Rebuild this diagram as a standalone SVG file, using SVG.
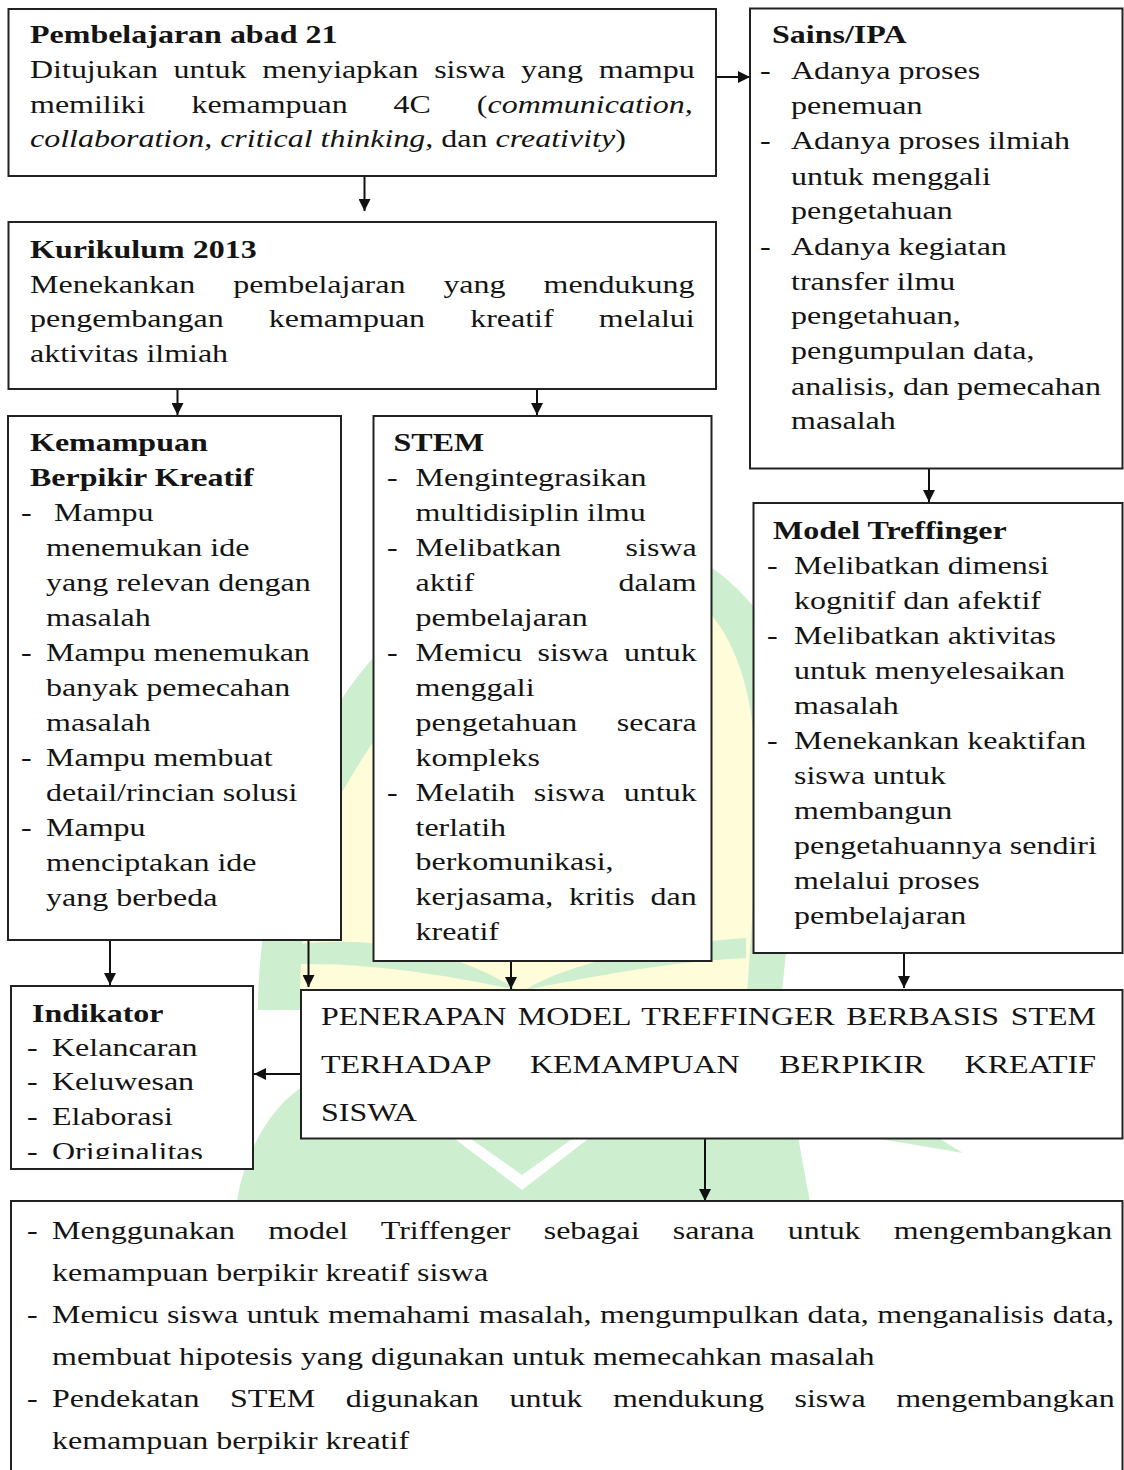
<svg xmlns="http://www.w3.org/2000/svg" width="1124" height="1470" viewBox="0 0 1124 1470">
<defs>
<style>
.box{fill:#ffffff;stroke:#222222;stroke-width:2}
.t{font-family:"Liberation Serif","Times New Roman",serif;font-size:25px;fill:#141414}
.b{font-weight:700}
.p{font-size:26px}
.i{font-style:italic}
.wmg{fill:#cdefcf}
.wmy{fill:#fefcd9}
</style>
<marker id="ah" viewBox="0 0 12 12" refX="12" refY="6" markerWidth="12" markerHeight="12" markerUnits="userSpaceOnUse" orient="auto">
<path d="M0 0 L12 6 L0 12 Z" fill="#111111"/>
</marker>
<clipPath id="clipInd"><rect x="11" y="986" width="242" height="173"/></clipPath>
</defs>
<rect x="0" y="0" width="1124" height="1470" fill="#ffffff"/>

<g id="watermark">
<path class="wmg" d="M258 1000 C262 880 295 770 341 700 C400 610 500 545 620 538 C670 536 720 565 754 607 C795 665 805 800 782 990 L782 1010 L258 1010 Z"/>
<path class="wmy" d="M300 1010 C300 900 318 830 341 794 C360 762 375 735 400 710 C480 630 610 600 711 614 C740 650 752 700 754 744 C760 830 752 920 746 1010 Z"/>
<path class="wmg" d="M300 944 C385 934 470 958 517 990 C460 978 380 963 300 964 Z"/>
<path class="wmg" d="M746 938 C660 944 570 962 525 990 C585 978 665 962 746 958 Z"/>
<path class="wmg" d="M237 1201 C245 1150 272 1105 305 1085 L790 1085 C798 1140 806 1180 810 1201 Z"/>
<path class="wmg" d="M880 1139 L940 1139 L963 1153 Z"/>
<polygon fill="#ffffff" points="455,1139 522,1190 588,1139 572,1139 522,1175 471,1139"/>
</g>

<g id="connectors" stroke="#111111" stroke-width="2" fill="none" marker-end="url(#ah)">
<path d="M364.5 176 V211"/>
<path d="M716 77 H750"/>
<path d="M177.5 389 V415"/>
<path d="M537 389 V415"/>
<path d="M929 469 V502"/>
<path d="M110 940 V985"/>
<path d="M308.5 940 V987"/>
<path d="M511 961 V989"/>
<path d="M904 953 V988"/>
<path d="M301 1074 H254"/>
<path d="M705 1139 V1201"/>
</g>

<g id="node-abad21">
<rect class="box" x="8.5" y="9" width="707.5" height="167"/>
<text class="t b" transform="translate(30 43) scale(1.28 1)">Pembelajaran abad 21</text>
<text class="t" transform="translate(30 78) scale(1.28 1)" style="word-spacing:6px">Ditujukan untuk menyiapkan siswa yang mampu</text>
<text class="t" transform="translate(30 112.5) scale(1.28 1)" style="word-spacing:29.6px">memiliki kemampuan 4C (<tspan class="i">communication,</tspan></text>
<text class="t" transform="translate(30 147) scale(1.28 1)"><tspan class="i">collaboration, critical thinking,</tspan> dan <tspan class="i">creativity</tspan>)</text>
</g>

<g id="node-kurikulum">
<rect class="box" x="8.5" y="222" width="707.5" height="167"/>
<text class="t b" transform="translate(30 258) scale(1.28 1)">Kurikulum 2013</text>
<text class="t" transform="translate(30 293) scale(1.28 1)" style="word-spacing:23.4px">Menekankan pembelajaran yang mendukung</text>
<text class="t" transform="translate(30 327) scale(1.28 1)" style="word-spacing:29px">pengembangan kemampuan kreatif melalui</text>
<text class="t" transform="translate(30 362) scale(1.28 1)">aktivitas ilmiah</text>
</g>

<g id="node-sains">
<rect class="box" x="750" y="8.5" width="372.5" height="460"/>
<text class="t b" transform="translate(772 43) scale(1.28 1)">Sains/IPA</text>
<text class="t" transform="translate(760 79) scale(1.28 1)">-</text>
<text class="t" transform="translate(791 79) scale(1.28 1)">Adanya proses</text>
<text class="t" transform="translate(791 114) scale(1.28 1)">penemuan</text>
<text class="t" transform="translate(760 149) scale(1.28 1)">-</text>
<text class="t" transform="translate(791 149) scale(1.28 1)">Adanya proses ilmiah</text>
<text class="t" transform="translate(791 185) scale(1.28 1)">untuk menggali</text>
<text class="t" transform="translate(791 219) scale(1.28 1)">pengetahuan</text>
<text class="t" transform="translate(760 255) scale(1.28 1)">-</text>
<text class="t" transform="translate(791 255) scale(1.28 1)">Adanya kegiatan</text>
<text class="t" transform="translate(791 290) scale(1.28 1)">transfer ilmu</text>
<text class="t" transform="translate(791 324) scale(1.28 1)">pengetahuan,</text>
<text class="t" transform="translate(791 359) scale(1.28 1)">pengumpulan data,</text>
<text class="t" transform="translate(791 394.5) scale(1.28 1)">analisis, dan pemecahan</text>
<text class="t" transform="translate(791 429) scale(1.28 1)">masalah</text>
</g>

<g id="node-kemampuan">
<rect class="box" x="8" y="416" width="333" height="524"/>
<text class="t b" transform="translate(30 451) scale(1.28 1)">Kemampuan</text>
<text class="t b" transform="translate(30 486) scale(1.28 1)">Berpikir Kreatif</text>
<text class="t" transform="translate(21 521) scale(1.28 1)">-</text>
<text class="t" transform="translate(54 521) scale(1.28 1)">Mampu</text>
<text class="t" transform="translate(46 556) scale(1.28 1)">menemukan ide</text>
<text class="t" transform="translate(46 591) scale(1.28 1)">yang relevan dengan</text>
<text class="t" transform="translate(46 626) scale(1.28 1)">masalah</text>
<text class="t" transform="translate(21 661) scale(1.28 1)">-</text>
<text class="t" transform="translate(46 661) scale(1.28 1)">Mampu menemukan</text>
<text class="t" transform="translate(46 696) scale(1.28 1)">banyak pemecahan</text>
<text class="t" transform="translate(46 731) scale(1.28 1)">masalah</text>
<text class="t" transform="translate(21 766) scale(1.28 1)">-</text>
<text class="t" transform="translate(46 766) scale(1.28 1)">Mampu membuat</text>
<text class="t" transform="translate(46 801) scale(1.28 1)">detail/rincian solusi</text>
<text class="t" transform="translate(21 836) scale(1.28 1)">-</text>
<text class="t" transform="translate(46 836) scale(1.28 1)">Mampu</text>
<text class="t" transform="translate(46 871) scale(1.28 1)">menciptakan ide</text>
<text class="t" transform="translate(46 906) scale(1.28 1)">yang berbeda</text>
</g>

<g id="node-stem">
<rect class="box" x="373.5" y="416" width="338" height="545"/>
<text class="t b" transform="translate(393.5 451) scale(1.28 1)">STEM</text>
<text class="t" transform="translate(387 486) scale(1.28 1)">-</text>
<text class="t" transform="translate(415.5 486) scale(1.28 1)">Mengintegrasikan</text>
<text class="t" transform="translate(415.5 521) scale(1.28 1)">multidisiplin ilmu</text>
<text class="t" transform="translate(387 556) scale(1.28 1)">-</text>
<text class="t" transform="translate(415.5 556) scale(1.28 1)" style="word-spacing:44.1px">Melibatkan siswa</text>
<text class="t" transform="translate(415.5 591) scale(1.28 1)" style="word-spacing:106.6px">aktif dalam</text>
<text class="t" transform="translate(415.5 626) scale(1.28 1)">pembelajaran</text>
<text class="t" transform="translate(387 661) scale(1.28 1)">-</text>
<text class="t" transform="translate(415.5 661) scale(1.28 1)" style="word-spacing:5.75px">Memicu siswa untuk</text>
<text class="t" transform="translate(415.5 696) scale(1.28 1)">menggali</text>
<text class="t" transform="translate(415.5 731) scale(1.28 1)" style="word-spacing:24.75px">pengetahuan secara</text>
<text class="t" transform="translate(415.5 766) scale(1.28 1)">kompleks</text>
<text class="t" transform="translate(387 801) scale(1.28 1)">-</text>
<text class="t" transform="translate(415.5 801) scale(1.28 1)" style="word-spacing:8.5px">Melatih siswa untuk</text>
<text class="t" transform="translate(415.5 836) scale(1.28 1)">terlatih</text>
<text class="t" transform="translate(415.5 870) scale(1.28 1)">berkomunikasi,</text>
<text class="t" transform="translate(415.5 905) scale(1.28 1)" style="word-spacing:6.1px">kerjasama, kritis dan</text>
<text class="t" transform="translate(415.5 940) scale(1.28 1)">kreatif</text>
</g>

<g id="node-treffinger">
<rect class="box" x="753.5" y="503" width="369" height="450"/>
<text class="t b" transform="translate(773 539) scale(1.28 1)">Model Treffinger</text>
<text class="t" transform="translate(767 574) scale(1.28 1)">-</text>
<text class="t" transform="translate(794 574) scale(1.28 1)">Melibatkan dimensi</text>
<text class="t" transform="translate(794 609) scale(1.28 1)">kognitif dan afektif</text>
<text class="t" transform="translate(767 644) scale(1.28 1)">-</text>
<text class="t" transform="translate(794 644) scale(1.28 1)">Melibatkan aktivitas</text>
<text class="t" transform="translate(794 679) scale(1.28 1)">untuk menyelesaikan</text>
<text class="t" transform="translate(794 714) scale(1.28 1)">masalah</text>
<text class="t" transform="translate(767 749) scale(1.28 1)">-</text>
<text class="t" transform="translate(794 749) scale(1.28 1)">Menekankan keaktifan</text>
<text class="t" transform="translate(794 784) scale(1.28 1)">siswa untuk</text>
<text class="t" transform="translate(794 819) scale(1.28 1)">membangun</text>
<text class="t" transform="translate(794 854) scale(1.28 1)">pengetahuannya sendiri</text>
<text class="t" transform="translate(794 889) scale(1.28 1)">melalui proses</text>
<text class="t" transform="translate(794 924) scale(1.28 1)">pembelajaran</text>
</g>

<g id="node-indikator">
<rect class="box" x="11" y="986" width="242" height="183"/>
<g clip-path="url(#clipInd)">
<text class="t b" transform="translate(32 1022) scale(1.28 1)">Indikator</text>
<text class="t" transform="translate(27 1056) scale(1.28 1)">-</text>
<text class="t" transform="translate(52 1056) scale(1.28 1)">Kelancaran</text>
<text class="t" transform="translate(27 1090) scale(1.28 1)">-</text>
<text class="t" transform="translate(52 1090) scale(1.28 1)">Keluwesan</text>
<text class="t" transform="translate(27 1125) scale(1.28 1)">-</text>
<text class="t" transform="translate(52 1125) scale(1.28 1)">Elaborasi</text>
<text class="t" transform="translate(27 1160) scale(1.28 1)">-</text>
<text class="t" transform="translate(52 1160) scale(1.28 1)">Originalitas</text>
</g>
</g>

<g id="node-penerapan">
<rect class="box" x="301" y="990" width="821.5" height="148.5"/>
<text class="t p" transform="translate(321 1025) scale(1.23 1)" style="word-spacing:2.9px">PENERAPAN MODEL TREFFINGER BERBASIS STEM</text>
<text class="t p" transform="translate(321 1073) scale(1.23 1)" style="word-spacing:25.8px">TERHADAP KEMAMPUAN BERPIKIR KREATIF</text>
<text class="t p" transform="translate(321 1121) scale(1.23 1)">SISWA</text>
</g>

<g id="node-kesimpulan">
<rect class="box" x="11" y="1201" width="1111.5" height="300"/>
<text class="t" transform="translate(27 1239) scale(1.28 1)">-</text>
<text class="t" transform="translate(52 1239) scale(1.28 1)" style="word-spacing:19.7px">Menggunakan model Triffenger sebagai sarana untuk mengembangkan</text>
<text class="t" transform="translate(52 1281) scale(1.28 1)">kemampuan berpikir kreatif siswa</text>
<text class="t" transform="translate(27 1323) scale(1.28 1)">-</text>
<text class="t" transform="translate(52 1323) scale(1.28 1)" style="word-spacing:0.4px">Memicu siswa untuk memahami masalah, mengumpulkan data, menganalisis data,</text>
<text class="t" transform="translate(52 1365) scale(1.28 1)">membuat hipotesis yang digunakan untuk memecahkan masalah</text>
<text class="t" transform="translate(27 1407) scale(1.28 1)">-</text>
<text class="t" transform="translate(52 1407) scale(1.28 1)" style="word-spacing:17.6px">Pendekatan STEM digunakan untuk mendukung siswa mengembangkan</text>
<text class="t" transform="translate(52 1449) scale(1.28 1)">kemampuan berpikir kreatif</text>
</g>
</svg>
